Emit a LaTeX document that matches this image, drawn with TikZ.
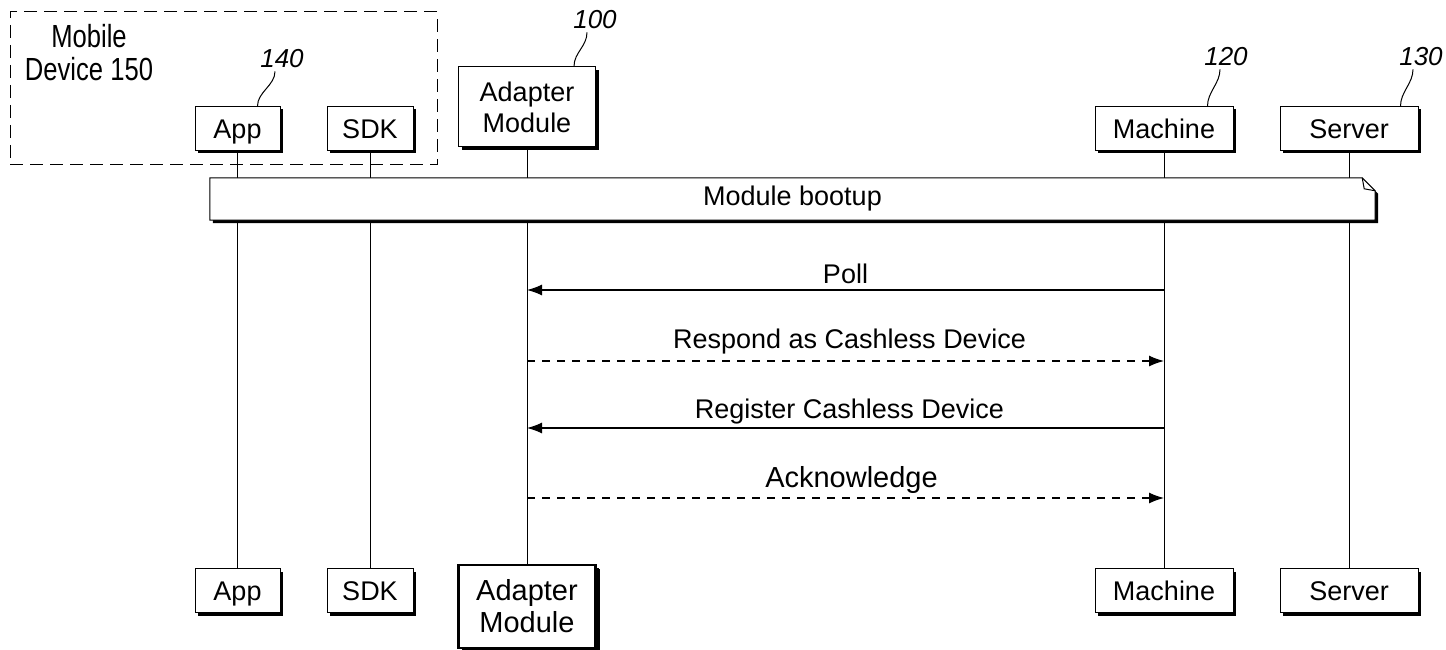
\documentclass[tikz,border=0pt]{standalone}
\usepackage{fontspec}
\setmainfont{Liberation Sans}
\usetikzlibrary{arrows.meta,shadows}
\pgfdeclarelayer{lines}
\pgfdeclarelayer{notebg}
\pgfsetlayers{lines,notebg,main}
\begin{document}
\begin{tikzpicture}[x=1pt,y=-1pt,
  lbl/.style={font=\fontsize{27}{31}\selectfont},
  actor/.style={draw, line width=1pt, fill=white, minimum height=44pt,
    inner sep=0pt, lbl, align=center,
    drop shadow={shadow xshift=3pt, shadow yshift=-3pt, opacity=1, fill=black}},
  oneline/.style={text height=26pt, text depth=6.6pt},
  bigactor/.style={actor, line width=2.2pt, font=\fontsize{29}{32}\selectfont,
    drop shadow={shadow xshift=4pt, shadow yshift=-4pt, opacity=1, fill=black}},
  refnum/.style={font=\itshape\fontsize{26}{28}\selectfont, inner sep=1pt},
  lead/.style={line width=1pt},
  life/.style={line width=1pt},
  msg/.style={line width=1.2pt, -{Latex[length=15pt,width=11pt]}},
  reply/.style={msg, dash pattern=on 8pt off 7pt},
  grp/.style={draw, line width=1pt, dash pattern=on 13pt off 7pt, inner sep=0pt}]
\useasboundingbox (0,0) rectangle (1446,650);

% mobile device group
\node[grp, minimum width=427pt, minimum height=153pt] (mob) at (223.5,88.5) {};
\node[align=center, font=\fontsize{32}{33}\selectfont, inner sep=0pt] (mobl) at (89,53)
  {\scalebox{0.8}[1]{Mobile}\\\scalebox{0.8}[1]{Device 150}};

% top actors
\node[actor, oneline, minimum width=85pt] (appT) at (237.5,128.5) {App};
\node[actor, oneline, minimum width=86pt] (sdkT) at (370,128.5) {SDK};
\node[actor, minimum width=137pt, minimum height=80pt] (adT) at (527,107) {Adapter\\Module};
\node[actor, oneline, minimum width=138pt] (maT) at (1164,128.5) {Machine};
\node[actor, oneline, minimum width=138pt] (seT) at (1349,128.5) {Server};

% bottom actors
\node[actor, oneline, minimum width=85pt] (appB) at (237.5,590.5) {App};
\node[actor, oneline, minimum width=86pt] (sdkB) at (370,590.5) {SDK};
\node[bigactor, minimum width=137pt, minimum height=83pt] (adB) at (527,606.5) {Adapter\\Module};
\node[actor, oneline, minimum width=138pt] (maB) at (1164,590.5) {Machine};
\node[actor, oneline, minimum width=138pt] (seB) at (1349,590.5) {Server};

% reference numerals
\node[refnum] (n140) at (282,59) {140};
\node[refnum] (n100) at (595,20) {100};
\node[refnum] (n120) at (1226,57) {120};
\node[refnum] (n130) at (1421,57) {130};
\draw[lead] ([shift={(-7,2)}]n140.south) .. controls +(0,14) and +(0,-14) .. ([shift={(-23,0)}]appT.north east);
\draw[lead] ([shift={(-8,2)}]n100.south) .. controls +(0,14) and +(0,-14) .. ([shift={(-22,0)}]adT.north east);
\draw[lead] ([shift={(-6,2)}]n120.south) .. controls +(0,14) and +(0,-14) .. ([shift={(-26,0)}]maT.north east);
\draw[lead] ([shift={(-8,2)}]n130.south) .. controls +(0,14) and +(0,-14) .. ([shift={(-18,0)}]seT.north east);

% lifelines
\begin{pgfonlayer}{lines}
\draw[life] (appT) -- (appB);
\draw[life] (sdkT) -- (sdkB);
\draw[life] (adT) -- (adB);
\draw[life] (maT) -- (maB);
\draw[life] (seT) -- (seB);
\end{pgfonlayer}

% note: module bootup
\node[lbl, minimum width=1165pt, minimum height=42pt, inner sep=0pt] (boot) at (792.5,199) {Module bootup};
\begin{pgfonlayer}{notebg}
\fill[black] ([shift={(3,3)}]boot.north west) -- ([shift={(-10,3)}]boot.north east)
  -- ([shift={(3,16)}]boot.north east) -- ([shift={(3,3)}]boot.south east)
  -- ([shift={(3,3)}]boot.south west) -- cycle;
\filldraw[fill=white, line width=1pt] (boot.north west) -- ([shift={(-13,0)}]boot.north east)
  -- ([shift={(0,13)}]boot.north east) -- (boot.south east) -- (boot.south west) -- cycle;
\draw[line width=1pt] ([shift={(-13,0)}]boot.north east) -- ([shift={(-11,11)}]boot.north east)
  -- ([shift={(0,13)}]boot.north east);
\end{pgfonlayer}

% messages
\coordinate (yPoll) at (0,290);
\coordinate (yResp) at (0,361);
\coordinate (yReg) at (0,428);
\coordinate (yAck) at (0,498);
\draw[msg] (maT |- yPoll) -- (adT |- yPoll)
  node[midway, anchor=base, shift={(0,-7)}, lbl] {Poll};
\draw[reply] (adT |- yResp) -- (maT |- yResp)
  node[midway, anchor=base, shift={(4,-13)}, lbl] {Respond as Cashless Device};
\draw[msg] (maT |- yReg) -- (adT |- yReg)
  node[midway, anchor=base, shift={(4,-10)}, lbl] {Register Cashless Device};
\draw[reply] (adT |- yAck) -- (maT |- yAck)
  node[midway, anchor=base, shift={(6,-11)}, font=\fontsize{29}{32}\selectfont] {Acknowledge};
\end{tikzpicture}
\end{document}
